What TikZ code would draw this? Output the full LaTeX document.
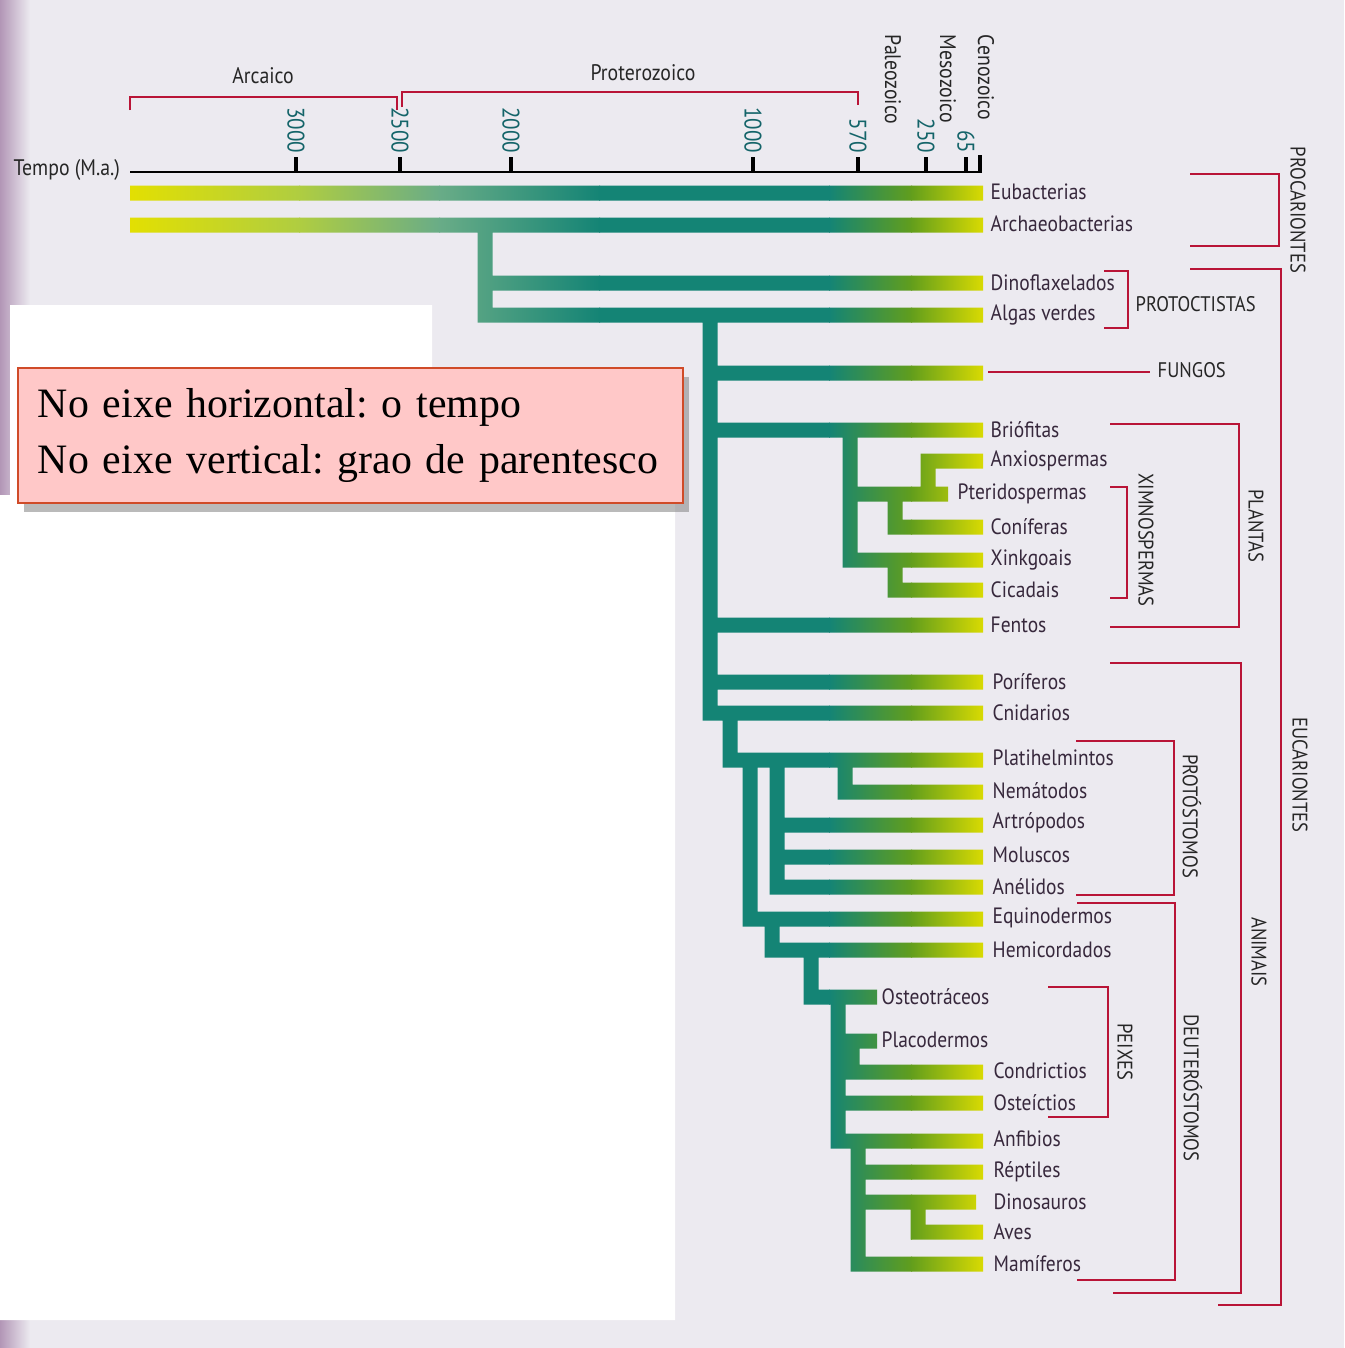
\documentclass[tikz,border=0pt]{standalone}
\usepackage{fontspec}
\setmainfont{Liberation Serif}
\newfontfamily\labfont{PT Sans}[FakeStretch=0.88]
\usetikzlibrary{shadows}
\frenchspacing
\definecolor{bggray}{RGB}{236,234,240}
\definecolor{spine}{RGB}{178,150,182}
\definecolor{treeyellow}{RGB}{228,224,0}
\definecolor{treelime}{RGB}{175,205,65}
\definecolor{treepale}{RGB}{105,172,135}
\definecolor{treeteal}{RGB}{20,132,117}
\definecolor{treegreen}{RGB}{98,158,28}
\definecolor{bracketred}{RGB}{185,20,55}
\definecolor{ticktext}{RGB}{20,100,105}
\definecolor{labtext}{RGB}{55,40,60}
\definecolor{notefill}{RGB}{255,200,200}
\definecolor{noteborder}{RGB}{208,75,40}

\begin{document}
\begin{tikzpicture}[
  x=0.01cm, y=-0.01cm,
  lbl/.style={font=\labfont\fontsize{6.3}{7}\selectfont, text=labtext, anchor=west, inner sep=0pt},
  grp/.style={font=\labfont\fontsize{6}{7}\selectfont, text=black!85, inner sep=0pt},
  vgrp/.style={grp, rotate=-90},
  era/.style={font=\labfont\fontsize{6.4}{7}\selectfont, text=black!85, inner sep=0pt},
  ticklbl/.style={font=\labfont\fontsize{6.8}{7}\selectfont, text=ticktext, rotate=-90, anchor=east, inner sep=0pt},
  brk/.style={bracketred, line width=0.7pt},
  tick/.style={line width=1.1pt},
  notebox/.style={draw=noteborder, fill=notefill, line width=0.5pt, minimum width=6.65cm, minimum height=1.35cm,
    text width=6.25cm, inner xsep=0.2cm, align=left, font=\fontsize{11.9}{16}\selectfont,
    drop shadow={shadow xshift=0.6mm, shadow yshift=-0.9mm, fill=black!45, opacity=0.6}}
]
\useasboundingbox (0,0) rectangle (1344,1348);
% page background
\fill[bggray] (0,0) rectangle (1344,1348);
\shade[left color=spine, right color=bggray] (0,0) rectangle (30,1348);
\fill[white] (10,305) -- (432,305) -- (432,370) -- (675,370) -- (675,1320) -- (0,1320) -- (0,495) -- (10,495) -- cycle;

% time axis
\node[era, anchor=west] (tempo) at (13,170) {Tempo (M.a.)};
\draw[line width=0.7pt] (130,172) -- (982,172);
\foreach \tx/\tl in {296/3000, 400/2500, 511/2000, 753/1000, 858/570, 926/250, 966/65} {
  \draw[tick] (\tx,172) -- (\tx,157);
  \node[ticklbl] (t\tl) at (\tx,154) {\tl};
}
\draw[tick] (980,172) -- (980,155);

% eras
\node[era] (arcaico) at (263,76) {Arcaico};
\node[era] (proterozoico) at (643,73) {Proterozoico};
\draw[brk] (130,110) -- (130,97) -- (397,97) -- (397,110);
\draw[brk] (402,107) -- (402,92) -- (858,92) -- (858,105);
\node[era, rotate=-90, anchor=west] (paleozoico) at (893,34) {Paleozoico};
\node[era, rotate=-90, anchor=west] (mesozoico) at (948,34) {Mesozoico};
\node[era, rotate=-90, anchor=west] (cenozoico) at (986,34) {Cenozoico};

% tree
\begin{scope}
\path[clip]
  \foreach \xa/\xb/\yy in {130/983/193, 130/983/225, 477.5/983/283, 477.5/983/315,
    702.5/983/373, 702.5/983/430, 920.5/983/461, 842.5/948/494, 887.5/983/527,
    842.5/983/560, 887.5/983/590, 702.5/983/625, 702.5/983/682, 702.5/983/713,
    722.5/983/760, 837.5/983/792, 769.5/983/825, 769.5/983/857, 769.5/983/887,
    742.5/983/919, 764.5/983/950, 803.5/877/997, 830.5/877/1041, 844.5/983/1072,
    830.5/983/1103, 830.5/983/1141, 850.5/983/1172, 850.5/976/1202, 910.5/983/1232,
    850.5/983/1264}
    {(\xa,\yy-7.5) rectangle (\xb,\yy+7.5)}
  \foreach \xx/\ya/\yb in {485/225/315, 710/315/713, 850/430/560, 928/461/494,
    895/494/527, 895/560/590, 730/713/760, 750/760/919, 777/760/887, 845/760/792,
    772/919/950, 811/950/997, 838/997/1141, 852/1041/1072, 858/1141/1264, 918/1202/1232}
    {(\xx-7.5,\ya) rectangle (\xx+7.5,\yb+7.5)};
\shade[left color=treeyellow, right color=treelime] (125,150) rectangle (300,1300);
\shade[left color=treelime, right color=treepale] (299,150) rectangle (440,1300);
\shade[left color=treepale, right color=treeteal] (439,150) rectangle (600,1300);
\fill[treeteal] (599,150) rectangle (830,1300);
\shade[left color=treeteal, right color=treegreen] (829,150) rectangle (912,1300);
\shade[left color=treegreen, right color=treeyellow] (911,150) rectangle (990,1300);
\end{scope}

% taxa
\foreach \nm/\tx/\lx/\ly in {eubac/Eubacterias/990/192, archaeo/Archaeobacterias/990/224,
  dino/Dinoflaxelados/990/283, algas/Algas verdes/990/315, brio/Briófitas/990/430,
  anxio/Anxiospermas/990/461, pteri/Pteridospermas/957/494, conif/Coníferas/990/527,
  xink/Xinkgoais/990/560, cica/Cicadais/990/590, fentos/Fentos/990/625,
  porif/Poríferos/992/682, cnid/Cnidarios/992/713, plati/Platihelmintos/992/758,
  nemat/Nemátodos/992/791, artro/Artrópodos/992/823, molus/Moluscos/992/855,
  aneli/Anélidos/992/887, equin/Equinodermos/992/918, hemic/Hemicordados/992/950,
  osteot/Osteotráceos/881/997, placo/Placodermos/881/1040, condr/Condrictios/993/1071,
  ostei/Osteíctios/993/1103, anfib/Anfibios/993/1139, rept/Réptiles/993/1172,
  dinos/Dinosauros/993/1202, aves/Aves/993/1232, mamif/Mamíferos/993/1264}
  \node[lbl] (\nm) at (\lx,\ly) {\tx};

% groups
\draw[brk] (1190,174) -| (1279,246) -- (1190,246);
\node[vgrp] (procar) at (1298,210) {PROCARIONTES};
\draw[brk] (1190,269) -| (1281,1305) -- (1218,1305);
\node[vgrp] (eucar) at (1300,775) {EUCARIONTES};
\draw[brk] (1104,271) -| (1128,328) -- (1104,328);
\node[grp, anchor=west] (protoc) at (1135,304) {PROTOCTISTAS};
\draw[brk] (988,372) -- (1150,372);
\node[grp, anchor=west] (fungos) at (1157,370) {FUNGOS};
\draw[brk] (1110,424) -| (1239,627) -- (1110,627);
\node[vgrp] (plantas) at (1256,526) {PLANTAS};
\draw[brk] (1110,487) -| (1127,598) -- (1110,598);
\node[vgrp] (ximno) at (1146,540) {XIMNOSPERMAS};
\draw[brk] (1110,663) -| (1241,1293) -- (1113,1293);
\node[vgrp] (animais) at (1259,952) {ANIMAIS};
\draw[brk] (1076,741) -| (1174,895) -- (1076,895);
\node[vgrp] (protos) at (1192,816) {PROTÓSTOMOS};
\draw[brk] (1077,903) -| (1175,1280) -- (1077,1280);
\node[vgrp] (deuter) at (1193,1088) {DEUTERÓSTOMOS};
\draw[brk] (1048,987) -| (1108,1117) -- (1048,1117);
\node[vgrp] (peixes) at (1125,1052) {PEIXES};

% note
\node[notebox] (note) at (350.5,435.5) {No eixe horizontal: o tempo\\No eixe vertical: grao de parentesco};
\end{tikzpicture}
\end{document}
